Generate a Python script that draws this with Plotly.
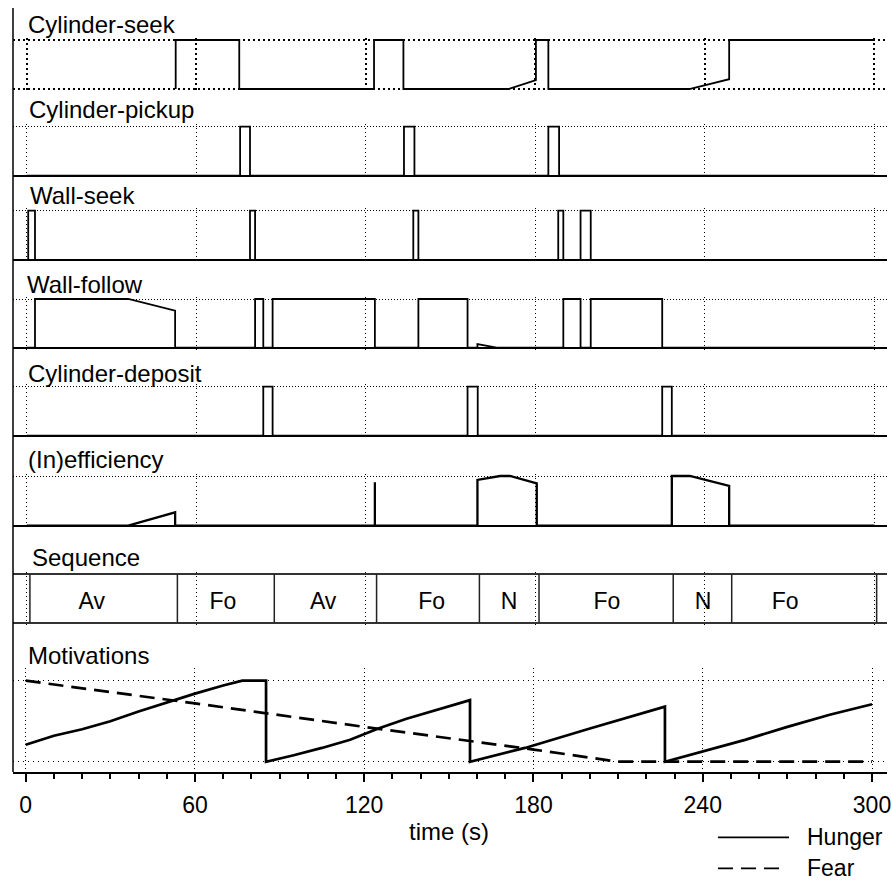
import plotly.graph_objects as go

# ------------------------------------------------------------------ data
# time axis ticks
tick_vals = [0, 60, 120, 180, 240, 300]
tick_text = ["0", "60", "120", "180", "240", "300"]

# behaviour activation traces (time in s, activation 0..1)
seek_t = [52.7, 52.7, 75.2, 75.2, 122.9, 122.9, 133.3, 133.3, 170.4, 180.2, 180.2,
          184.6, 184.6, 234.5, 248.6, 248.6, 299.6]
seek_v = [0, 1, 1, 0, 0, 1, 1, 0, 0, 0.18, 1, 1, 0, 0, 0.2, 1, 1]

pickup_t = [0, 75.5, 75.5, 79.0, 79.0, 133.5, 133.5, 137.2, 137.2, 184.6, 184.6, 188.4, 188.4, 300]
pickup_v = [0, 0, 1, 1, 0, 0, 1, 1, 0, 0, 1, 1, 0, 0]

wallseek_t = [0.5, 0.5, 2.9, 2.9, 79.0, 79.0, 80.8, 80.8, 136.8, 136.8, 138.6, 138.6,
              188.1, 188.1, 189.9, 189.9, 196.0, 196.0, 199.6, 199.6, 300]
wallseek_v = [0, 1, 1, 0, 0, 1, 1, 0, 0, 1, 1, 0, 0, 1, 1, 0, 0, 1, 1, 0, 0]

wallfollow_t = [0, 2.9, 2.9, 35.9, 52.5, 52.5, 80.8, 80.8, 83.7, 83.7, 87.0, 87.0, 123.2, 123.2,
                138.6, 138.6, 156.0, 156.0, 159.5, 159.5, 166.3, 189.9, 189.9, 196.0, 196.0,
                199.6, 199.6, 224.9, 224.9, 300]
wallfollow_v = [0, 0, 1, 1, 0.76, 0, 0, 1, 1, 0, 0, 1, 1, 0, 0, 1, 1, 0, 0, 0.075, 0, 0, 1, 1,
                0, 0, 1, 1, 0, 0]

deposit_t = [0, 83.7, 83.7, 87.0, 87.0, 156.0, 156.0, 159.6, 159.6, 224.9, 224.9, 228.3, 228.3, 300]
deposit_v = [0, 0, 1, 1, 0, 0, 1, 1, 0, 0, 1, 1, 0, 0]

ineff_t = [0, 35.9, 52.5, 52.5, 123.2, 123.2, 123.2, 159.5, 159.5, 167.5, 171.0, 180.5, 180.5,
           228.3, 228.3, 234.7, 248.6, 248.6, 300]
ineff_v = [0, 0, 0.27, 0, 0, 0.875, 0, 0, 0.92, 1.0, 1.0, 0.85, 0, 0, 1.0, 1.0, 0.80, 0, 0]

# behaviour sequence
seq_bounds = [1.1, 53.3, 87.6, 123.8, 160.2, 181.3, 228.8, 249.5, 300.8]
seq_labels = ["Av", "Fo", "Av", "Fo", "N", "Fo", "N", "Fo"]
seq_label_t = [23.0, 69.4, 104.9, 143.3, 170.7, 205.3, 239.4, 268.4]

# motivations
hunger_t = [0, 10, 20, 30, 40, 50, 60, 70, 76.8, 85.2, 85.2, 95, 105, 115, 125, 135, 150,
            157.5, 157.5, 177, 200, 220, 226.6, 226.6, 240, 255, 270, 285, 300]
hunger_v = [0.21, 0.32, 0.40, 0.50, 0.62, 0.73, 0.84, 0.94, 1.0, 1.0, 0.0, 0.08, 0.17, 0.27,
            0.41, 0.53, 0.68, 0.76, 0.0, 0.17, 0.41, 0.62, 0.68, 0.0, 0.13, 0.27, 0.43, 0.58, 0.71]
fear_t = [0, 60, 120, 180, 210, 300]
fear_v = [1.0, 0.72, 0.43, 0.15, 0.0, 0.0]

panel_titles = ["Cylinder-seek", "Cylinder-pickup", "Wall-seek", "Wall-follow",
                "Cylinder-deposit", "(In)efficiency", "Sequence", "Motivations"]

# ------------------------------------------------------------------ layout geometry (pixels)
W, H = 891, 880
ML, MR, MT, MB = 13, 4, 0, 108
PW = W - ML - MR
PH = H - MT - MB

# per panel: top pixel (value 1), base pixel (value 0), title baseline px, title left px
panel_geom = [
    (40.0, 89.0, 33.3, 25.5),
    (126.7, 175.7, 118.3, 26.5),
    (210.7, 260.0, 204.3, 28.0),
    (299.0, 347.7, 292.7, 25.0),
    (386.7, 435.7, 381.7, 25.5),
    (476.0, 525.7, 468.3, 25.5),
    (574.3, 622.7, 565.7, 29.5),
    (680.7, 761.7, 664.3, 25.5),
]

FONT = "Liberation Sans, Arial, Helvetica, sans-serif"


def pyp(p):
    return (PH - p) / PH


def pxp(p):
    return (p - ML) / PW


# upper panels and bottom axis have slightly different horizontal scales
upper_range = [(ML - 26.8) / 2.8253, (W - MR - 26.8) / 2.8253]
lower_range = [(ML - 25.7) / 2.821, (W - MR - 25.7) / 2.821]

fig = go.Figure()

signals = [(seek_t, seek_v), (pickup_t, pickup_v), (wallseek_t, wallseek_v),
           (wallfollow_t, wallfollow_v), (deposit_t, deposit_v), (ineff_t, ineff_v)]
widths = [1.8, 1.8, 1.8, 1.8, 1.8, 2.3]

for i, (t, v) in enumerate(signals):
    k = i + 1
    fig.add_trace(go.Scatter(x=t, y=v, mode="lines", line=dict(color="black", width=widths[i]),
                             xaxis="x" if k == 1 else f"x{k}", yaxis="y" if k == 1 else f"y{k}",
                             showlegend=False, hoverinfo="skip"))

# sequence separators
sx, sy = [], []
for b in seq_bounds:
    sx += [b, b, None]
    sy += [0, 1, None]
fig.add_trace(go.Scatter(x=sx, y=sy, mode="lines", line=dict(color="#222", width=1.5),
                         xaxis="x7", yaxis="y7", showlegend=False, hoverinfo="skip"))
fig.add_trace(go.Scatter(x=seq_label_t, y=[0.4] * len(seq_labels), mode="text", text=seq_labels,
                         textfont=dict(family=FONT, size=23, color="black"),
                         xaxis="x7", yaxis="y7", showlegend=False, hoverinfo="skip"))

# motivations
fig.add_trace(go.Scatter(x=hunger_t, y=hunger_v, mode="lines", name="Hunger",
                         line=dict(color="black", width=2.7),
                         xaxis="x8", yaxis="y8", showlegend=False, hoverinfo="skip"))
fig.add_trace(go.Scatter(x=fear_t, y=fear_v, mode="lines", name="Fear",
                         line=dict(color="black", width=2.7, dash="15px,8px"),
                         xaxis="x8", yaxis="y8", showlegend=False, hoverinfo="skip"))

layout = dict(width=W, height=H, margin=dict(l=ML, r=MR, t=MT, b=MB),
              paper_bgcolor="white", plot_bgcolor="white", showlegend=False,
              font=dict(family=FONT, size=23, color="black"))

annotations = []
for i, (top, base, tb, tx) in enumerate(panel_geom):
    k = i + 1
    xs = "" if k == 1 else str(k)
    span = base - top
    if k < 8:
        pad = 2.5
        rng = [-pad / span, 1 + pad / span]
        dom = [pyp(base + pad), pyp(top - pad)]
    else:
        rng = [-(PH - base) / span, 1 + (top - 668.0) / span]
        dom = [0.0, pyp(668.0)]

    # x axis
    if k == 1:
        gdash, gw = "2px,3px", 1.6
    else:
        gdash, gw = "1px,3px", 1.2
    xa = dict(domain=[0, 1], range=upper_range if k < 8 else lower_range,
              tickmode="array", tickvals=tick_vals, showgrid=True, gridcolor="black",
              griddash=gdash, gridwidth=gw, zeroline=False, showline=False,
              showticklabels=False, ticks="", anchor=f"y{xs}" if xs else "y")
    if k == 8:
        xa.update(showticklabels=True, ticktext=tick_text, ticks="outside", ticklen=8,
                  tickwidth=2, tickcolor="black", showline=True, linecolor="black", linewidth=2,
                  tickfont=dict(family=FONT, size=23, color="black"), ticklabelstandoff=3,
                  ticklabeloverflow="allow",
                  minor=dict(tickmode="linear", tick0=0, dtick=10, ticks="outside", ticklen=5,
                             tickwidth=1.5, tickcolor="black", showgrid=False))
    layout[f"xaxis{xs}"] = xa

    # y axis
    ya = dict(domain=dom, range=rng, showticklabels=False, ticks="", showline=False,
              anchor=f"x{xs}" if xs else "x", tickmode="array", showgrid=True,
              gridcolor="black", zeroline=False)
    if k == 1:
        ya.update(tickvals=[0, 1], griddash="2px,3px", gridwidth=1.6)
    elif k < 7:
        ya.update(tickvals=[1], griddash="1px,2px", gridwidth=1.2,
                  zeroline=True, zerolinecolor="black", zerolinewidth=1.8)
    elif k == 7:
        ya.update(tickvals=[0, 1], griddash="solid", gridwidth=2, gridcolor="#333")
    else:
        ya.update(tickvals=[0, 1], griddash="1px,4px", gridwidth=1.4)
    layout[f"yaxis{xs}"] = ya

    # panel title
    annotations.append(dict(text=panel_titles[i], xref="paper", yref="paper",
                            x=pxp(tx), y=pyp(tb - 0.358 * 24), xanchor="left", yanchor="middle",
                            showarrow=False, font=dict(family=FONT, size=24, color="black")))

# axis title
annotations.append(dict(text="time (s)", xref="x8", yref="paper", x=150, y=pyp(831.0),
                        xanchor="center", yanchor="middle", showarrow=False,
                        font=dict(family=FONT, size=24, color="black")))

# legend (manual): label, dash, row pixel y, sample end pixel x
legend_items = [("Hunger", "solid", 837.3, 789), ("Fear", "15px,8px", 868.3, 781)]
shapes = [dict(type="line", xref="paper", yref="paper", x0=0, x1=0, y0=0, y1=pyp(8.0),
               line=dict(color="black", width=1.5))]
for name, dash, ypx, xend in legend_items:
    shapes.append(dict(type="line", xref="paper", yref="paper", x0=pxp(718), x1=pxp(xend),
                       y0=pyp(ypx), y1=pyp(ypx), line=dict(color="black", width=1.8, dash=dash)))
    annotations.append(dict(text=name, xref="paper", yref="paper", x=pxp(805), y=pyp(ypx),
                            xanchor="left", yanchor="middle", showarrow=False,
                            font=dict(family=FONT, size=23, color="black")))

layout["annotations"] = annotations
layout["shapes"] = shapes
fig.update_layout(**layout)

fig.write_html("out.html")
